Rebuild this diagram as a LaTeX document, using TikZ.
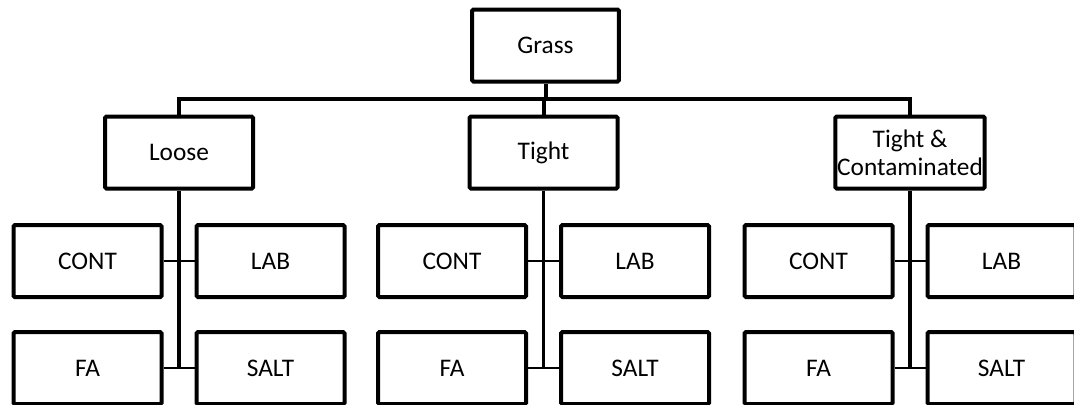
\documentclass[tikz,border=0pt]{standalone}
\usepackage{fontspec}
\setmainfont{Carlito}
\begin{document}
\begin{tikzpicture}[x=0.75pt,y=-0.75pt,
  box/.style={draw, line width=3pt, rounded corners=1pt, minimum width=111pt, minimum height=54pt,
    inner sep=0pt, align=center, font=\fontsize{19}{21}\selectfont},
  bus/.style={line width=3pt},
  trunk/.style={line width=2.6pt},
  stub/.style={line width=2.2pt}]
\useasboundingbox (0,0) rectangle (1074,404);
\clip (0,0) rectangle (1074,404);
% level 0
\node[box, minimum width=110pt] (grass) at (545.5,45.5) {Grass};
% level 1
\node[box] (loose) at (179,152.5) {Loose};
\node[box] (tight) at (543.5,152.5) {Tight};
\node[box, minimum width=112pt] (tc) at (910,152.5) {Tight \&\\Contaminated};
% leaves
\foreach \p/\x in {L/179, T/543.5, C/910} {
  \node[box] (\p cont) at (\x-91.5,261) {CONT};
  \node[box] (\p lab)  at (\x+91.5,261) {LAB};
  \node[box] (\p fa)   at (\x-91.5,368) {FA};
  \node[box] (\p salt) at (\x+91.5,368) {SALT};
}
% bus
\coordinate (busy) at (0,99);
\draw[bus] (grass.south) -- (grass.south |- busy);
\draw[bus] (loose.north) -- (loose.north |- busy) -- (tc.north |- busy) -- (tc.north);
\draw[bus] (tight.north) -- (tight.north |- busy);
% trunks and stubs
\foreach \p/\n in {L/loose, T/tight, C/tc} {
  \draw[trunk] (\n.south) -- (\n.south |- \p fa.east);
  \draw[stub] (\p cont.east) -- (\p lab.west);
  \draw[stub] (\p fa.east) -- (\p salt.west);
}
\end{tikzpicture}
\end{document}
